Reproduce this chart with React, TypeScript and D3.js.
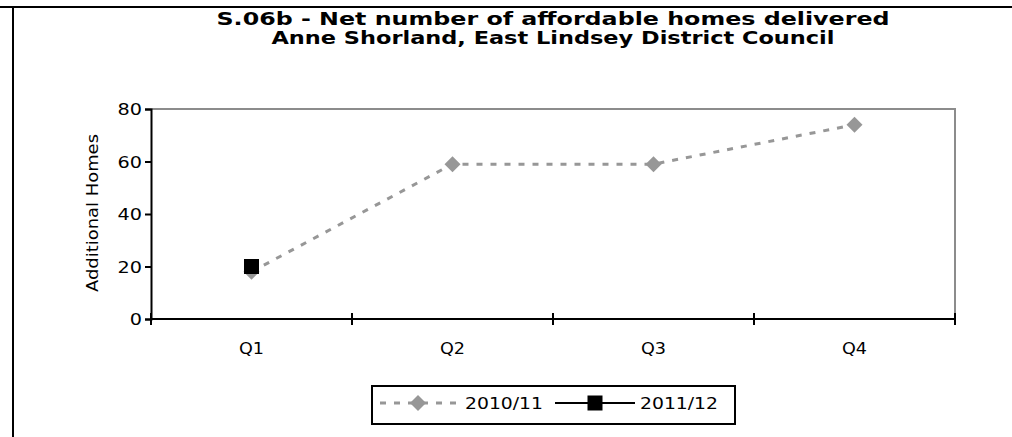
import * as d3 from "d3";
import { useEffect, useRef } from "react";

const quarters = ["Q1", "Q2", "Q3", "Q4"];
const values2010 = [18, 59, 59, 74];
const values2011: (number | null)[] = [20, null, null, null];
const yTicks = [0, 20, 40, 60, 80];
const seriesNames = ["2010/11", "2011/12"];

const App = () => {
  const svgRef = useRef<SVGSVGElement | null>(null);

  useEffect(() => {
    if (!svgRef.current) return;
    const width = 1012;
    const height = 437;
    const margin = { top: 109, right: 57, bottom: 118, left: 151 };
    const font = "Verdana, 'DejaVu Sans', sans-serif";
    const gray = "#979797";

    const svg = d3.select(svgRef.current);
    svg.selectAll("*").remove();

    // widen text a bit, Verdana-like
    const stretch = (sel: d3.Selection<any, any, any, any>, k: number) => {
      sel.each(function () {
        const el = this as SVGTextElement;
        const w = el.getComputedTextLength();
        el.setAttribute("textLength", String(w * k));
        el.setAttribute("lengthAdjust", "spacingAndGlyphs");
      });
    };

    // page frame
    svg.append("line").attr("x1", 0).attr("x2", width).attr("y1", 7).attr("y2", 7)
      .attr("stroke", "#000").attr("stroke-width", 2);
    svg.append("line").attr("x1", 13).attr("x2", 13).attr("y1", 7).attr("y2", height)
      .attr("stroke", "#000").attr("stroke-width", 2);

    const x = d3.scaleBand().domain(quarters).range([margin.left, width - margin.right]);
    const y = d3.scaleLinear().domain([0, 80]).range([height - margin.bottom, margin.top]);

    // title
    const t1 = svg.append("text").attr("x", 553).attr("y", 25).attr("text-anchor", "middle")
      .attr("font-family", font).attr("font-weight", "bold").attr("font-size", 18)
      .text("S.06b - Net number of affordable homes delivered");
    const t2 = svg.append("text").attr("x", 553).attr("y", 44).attr("text-anchor", "middle")
      .attr("font-family", font).attr("font-weight", "bold").attr("font-size", 18)
      .text("Anne Shorland, East Lindsey District Council");
    stretch(t1, 673 / (t1.node() as SVGTextElement).getComputedTextLength());
    stretch(t2, 563 / (t2.node() as SVGTextElement).getComputedTextLength());

    // top / right plot border
    const [x0, x1] = x.range();
    svg.append("path")
      .attr("d", `M${x0},${y(80)}H${x1}V${y(0)}`)
      .attr("fill", "none").attr("stroke", "#8c8c8c").attr("stroke-width", 2);

    // y axis
    const yAxis = svg.append("g").attr("transform", `translate(${x0},0)`)
      .call(d3.axisLeft(y).tickValues(yTicks).tickSize(6).tickPadding(3));
    yAxis.select(".domain").attr("stroke-width", 2);
    yAxis.selectAll("line").attr("stroke-width", 2);
    const yText = yAxis.selectAll("text").attr("font-family", font).attr("font-size", 16)
      .attr("fill", "#000").attr("dy", "0.36em");
    stretch(yText, 1.2);

    // x axis with crossing ticks
    const xAxis = svg.append("g").attr("transform", `translate(0,${y(0)})`);
    xAxis.append("line").attr("x1", x0).attr("x2", x1).attr("stroke", "#000").attr("stroke-width", 2);
    const edges = quarters.map((q) => x(q) as number).concat(x1);
    xAxis.selectAll("line.tick").data(edges).enter().append("line")
      .attr("class", "tick")
      .attr("x1", (d) => d).attr("x2", (d) => d).attr("y1", -6).attr("y2", 6)
      .attr("stroke", "#000").attr("stroke-width", 2);
    const xText = xAxis.selectAll("text").data(quarters).enter().append("text")
      .attr("x", (d) => (x(d) as number) + x.bandwidth() / 2).attr("y", 35)
      .attr("text-anchor", "middle").attr("font-family", font).attr("font-size", 16)
      .text((d) => d);
    stretch(xText, 1.1);

    // y label
    const yl = svg.append("text")
      .attr("transform", `translate(98,${(y(0) + y(80)) / 2 - 1}) rotate(-90)`)
      .attr("text-anchor", "middle").attr("font-family", font).attr("font-size", 16)
      .text("Additional Homes");
    stretch(yl, 158 / (yl.node() as SVGTextElement).getComputedTextLength());

    const cx = (q: string) => (x(q) as number) + x.bandwidth() / 2;
    const line = d3.line<number | null>()
      .defined((d) => d != null)
      .x((_, i) => cx(quarters[i]))
      .y((d) => y(d as number));

    const diamond = "M0,-8L8,0L0,8L-8,0Z";

    // series 2010/11
    svg.append("path").datum(values2010 as (number | null)[]).attr("d", line)
      .attr("fill", "none").attr("stroke", gray).attr("stroke-width", 3)
      .attr("stroke-dasharray", "6,8");
    svg.selectAll("path.d10").data(values2010).enter().append("path")
      .attr("class", "d10")
      .attr("transform", (d, i) => `translate(${cx(quarters[i])},${y(d)})`)
      .attr("d", diamond).attr("fill", gray);

    // series 2011/12
    svg.append("path").datum(values2011).attr("d", line)
      .attr("fill", "none").attr("stroke", "#000").attr("stroke-width", 2);
    svg.selectAll("rect.d11").data(values2011.filter((d) => d != null) as number[]).enter().append("rect")
      .attr("class", "d11")
      .attr("x", (_, i) => cx(quarters[i]) - 7.5).attr("y", (d) => y(d) - 7.5)
      .attr("width", 15).attr("height", 15).attr("fill", "#000");

    // legend
    const lg = svg.append("g");
    lg.append("rect").attr("x", 372).attr("y", 386).attr("width", 363).attr("height", 38)
      .attr("fill", "#fff").attr("stroke", "#000").attr("stroke-width", 2);
    const ly = 403;
    lg.append("line").attr("x1", 380).attr("x2", 460).attr("y1", ly).attr("y2", ly)
      .attr("stroke", gray).attr("stroke-width", 3).attr("stroke-dasharray", "6,8");
    lg.append("path").attr("transform", `translate(418,${ly})`).attr("d", diamond).attr("fill", gray);
    const lt1 = lg.append("text").attr("x", 465).attr("y", ly + 6).attr("font-family", font).attr("font-size", 16)
      .text(seriesNames[0]);
    lg.append("line").attr("x1", 555).attr("x2", 635).attr("y1", ly).attr("y2", ly)
      .attr("stroke", "#000").attr("stroke-width", 2);
    lg.append("rect").attr("x", 595 - 7.5).attr("y", ly - 7.5).attr("width", 15).attr("height", 15).attr("fill", "#000");
    const lt2 = lg.append("text").attr("x", 640).attr("y", ly + 6).attr("font-family", font).attr("font-size", 16)
      .text(seriesNames[1]);
    stretch(lt1, 78 / (lt1.node() as SVGTextElement).getComputedTextLength());
    stretch(lt2, 78 / (lt2.node() as SVGTextElement).getComputedTextLength());
  }, []);

  return (
    <svg
      ref={svgRef}
      width={1012}
      height={437}
      style={{ position: "absolute", left: 0, top: 0, background: "#fff" }}
    ></svg>
  );
};

export default App;
